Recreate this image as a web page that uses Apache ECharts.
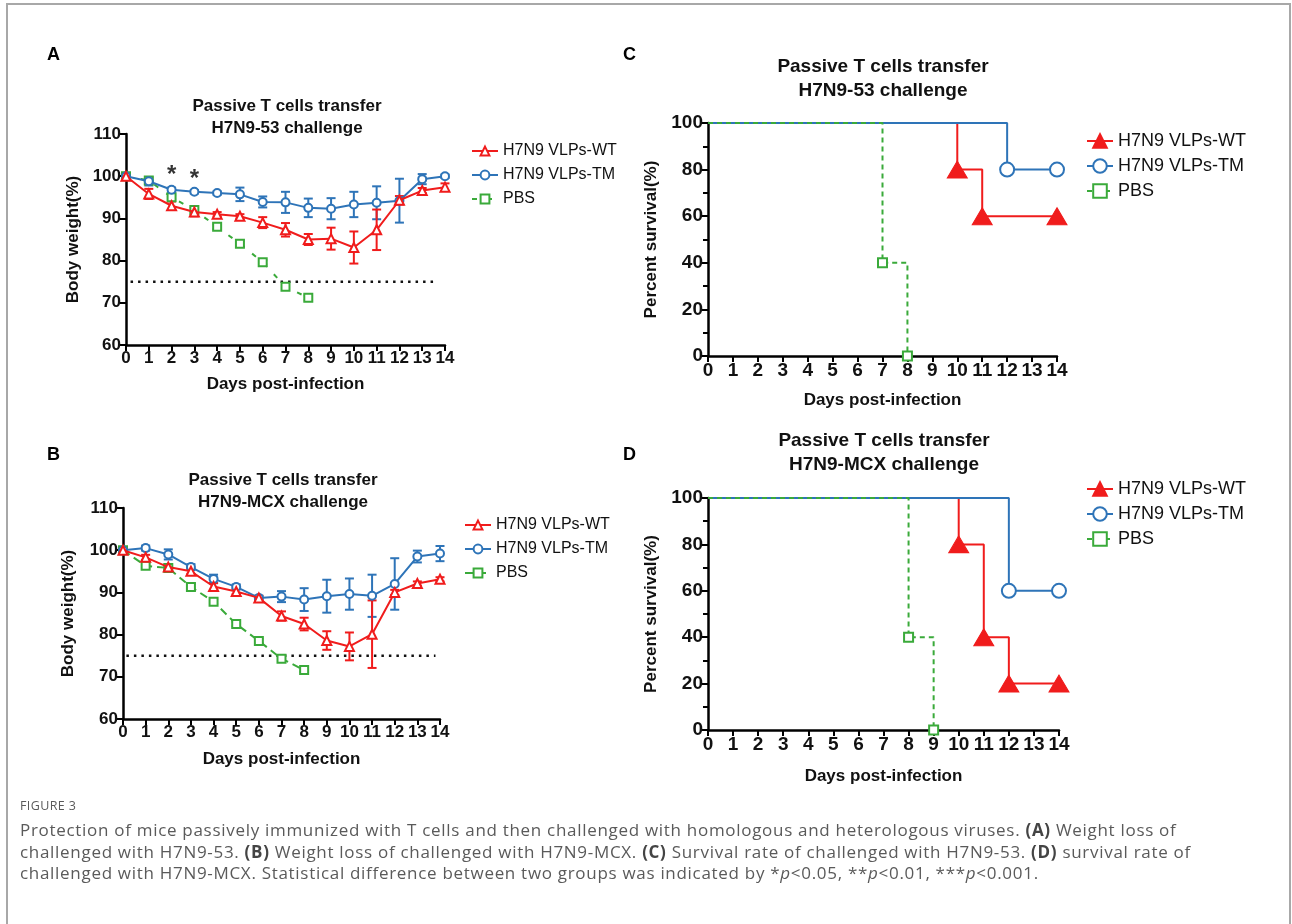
<!DOCTYPE html>
<html>
<head>
<meta charset="utf-8">
<script src="https://cdn.jsdelivr.net/npm/echarts@6/dist/echarts.min.js"></script>
<style>
  html, body { margin:0; padding:0; background:#fff; width:1292px; height:924px; overflow:hidden; }
  #frame { position:absolute; left:6px; top:3px; width:1285px; height:940px; border:2px solid #a8a8a8; border-bottom:none; box-sizing:border-box; }
  #chart { position:absolute; left:0; top:0; width:1292px; height:924px; }
  #cap { position:absolute; left:20px; top:797px; font-family:"Open Sans", "Liberation Sans", sans-serif; color:#5a5a5a; }
  #cap .fig { font-size:12.5px; letter-spacing:0.4px; margin-bottom:5px; }
  #cap .txt { font-size:17px; letter-spacing:0.7px; line-height:21.5px; white-space:nowrap; }
  #cap b { color:#444; }
</style>
</head>
<body>
<div id="frame"></div>
<div id="chart"></div>
<div id="cap">
  <div class="fig">FIGURE 3</div>
  <div class="txt">Protection of mice passively immunized with T cells and then challenged with homologous and heterologous viruses. <b>(A)</b> Weight loss of<br>challenged with H7N9-53. <b>(B)</b> Weight loss of challenged with H7N9-MCX. <b>(C)</b> Survival rate of challenged with H7N9-53. <b>(D)</b> survival rate of<br>challenged with H7N9-MCX. Statistical difference between two groups was indicated by *<i>p</i>&lt;0.05, **<i>p</i>&lt;0.01, ***<i>p</i>&lt;0.001.</div>
</div>
<script>
// ---------- DATA ----------
const days = [0,1,2,3,4,5,6,7,8,9,10,11,12,13,14];
const pbsDays = [0,1,2,3,4,5,6,7,8];

// Panel A: body weight, H7N9-53
const aWT     = [100,95.8,93,91.5,91,90.5,89,87.3,85,85.2,83.1,87.3,94.3,96.6,97.4];
const aWTerr  = [0,1.2,1,1,0.5,0.5,1.3,1.6,1.3,2.6,3.8,4.8,1,0.6,0.9];
const aTM     = [100,98.8,96.8,96.3,96,95.7,93.9,93.8,92.5,92.3,93.3,93.7,94.2,99.3,100];
const aTMerr  = [0,1,0.5,0.4,0.4,1.6,1.3,2.5,2.2,2.5,3,3.9,5.2,1.2,0.4];
const aPBS    = [100,99,95,92,88,84,79.6,73.8,71.2];
const aPBSerr = [0,0.5,0.5,0.6,0.6,0.7,0.5,0.7,0.6];
const aSigDays = [2,3];
const aSigY    = [100.1,99.3];
const aThreshold = [[0.2,75],[13.5,75]];

// Panel B: body weight, H7N9-MCX
const bWT     = [100,98.3,96,95,91.4,90.2,88.7,84.4,82.5,78.6,77.2,80.1,90,92.1,93.1];
const bWTerr  = [0,0.6,0.6,0.6,0.8,0.6,0.5,1.1,1.5,2.2,3.3,8,0.6,0.5,0.5];
const bTM     = [100,100.5,99,96,93.2,91.3,88.7,89,88.3,89.1,89.6,89.2,92,98.5,99.2];
const bTMerr  = [0,0.6,1.2,0.7,1,0.6,0.5,1.3,2.7,3.9,3.7,5,6.1,1.4,1.8];
const bPBS    = [100,96.3,95.8,91.3,87.8,82.5,78.5,74.3,71.6];
const bPBSerr = [0,0.5,0.4,0.7,0.6,0.5,0.5,0.4,0.4];
const bThreshold = [[0.15,75],[13.8,75]];

// Panel C: survival, H7N9-53
const cWTdays = [0,10,11,14],  cWTpct = [100,80,60,60];
const cTMdays = [0,12,14],     cTMpct = [100,80,80];
const cPBSdays = [0,7,8],      cPBSpct = [100,40,0];
// Panel D: survival, H7N9-MCX
const dWTdays = [0,10,11,12,14], dWTpct = [100,80,40,20,20];
const dTMdays = [0,12,14],       dTMpct = [100,60,60];
const dPBSdays = [0,8,9],        dPBSpct = [100,40,0];

const legendNames = ['H7N9 VLPs-WT','H7N9 VLPs-TM','PBS'];

// ---------- STYLE ----------
const RED = '#f01c1c', BLUE = '#2e74b8', GREEN = '#3aaa3a';
const FONT = '"Liberation Sans", Arial, sans-serif';
const chart = echarts.init(document.getElementById('chart'), null, {renderer:'canvas'});

const grids = [
  {left:126, top:134, width:319, height:211},
  {left:123, top:508, width:317, height:211},
  {left:708, top:123, width:349, height:233},
  {left:708, top:498, width:351, height:232}
];

function xAxisFor(i, fs, gap) {
  return {
    type:'value', gridIndex:i, min:0, max:14, interval:1,
    name:'Days post-infection', nameLocation:'middle', nameGap:gap,
    nameTextStyle:{fontFamily:FONT, fontWeight:'bold', fontSize:17, color:'#111'},
    axisLine:{onZero:false, lineStyle:{color:'#000', width:2.5}},
    axisTick:{length:6, lineStyle:{color:'#000', width:2}},
    axisLabel:{fontFamily:FONT, fontWeight:'bold', fontSize:fs, color:'#111', margin:5},
    splitLine:{show:false}
  };
}
function yAxisFor(i, min, max, interval, name, fs, gap, minor) {
  return {
    type:'value', gridIndex:i, min:min, max:max, interval:interval,
    name:name, nameLocation:'middle', nameGap:gap, nameRotate:90,
    nameTextStyle:{fontFamily:FONT, fontWeight:'bold', fontSize:17, color:'#111'},
    axisLine:{show:true, onZero:false, lineStyle:{color:'#000', width:2.5}},
    axisTick:{show:true, length:6, lineStyle:{color:'#000', width:2}},
    minorTick:{show:!!minor, splitNumber:2, length:5, lineStyle:{color:'#000', width:2}},
    axisLabel:{fontFamily:FONT, fontWeight:'bold', fontSize:fs, color:'#111', margin:5},
    splitLine:{show:false}
  };
}

function pairs(xs, ys) { return xs.map((x,i)=>[x, ys[i]]); }
function errData(xs, ys, es) { return xs.map((x,i)=>[x, ys[i], es[i]]).filter(d=>d[2]>0); }

function errSeries(idx, xs, ys, es, color) {
  return {
    type:'custom', xAxisIndex:idx, yAxisIndex:idx, data:errData(xs,ys,es), z:3, silent:true,
    renderItem:function(params, api){
      const x = api.value(0), y = api.value(1), e = api.value(2);
      const t = api.coord([x, y+e]), b = api.coord([x, y-e]);
      const c = 4.5;
      const st = {stroke:color, lineWidth:2};
      return {type:'group', children:[
        {type:'line', shape:{x1:t[0],y1:t[1],x2:b[0],y2:b[1]}, style:st},
        {type:'line', shape:{x1:t[0]-c,y1:t[1],x2:t[0]+c,y2:t[1]}, style:st},
        {type:'line', shape:{x1:b[0]-c,y1:b[1],x2:b[0]+c,y2:b[1]}, style:st}
      ]};
    }
  };
}

function weightLines(idx, p, wt, wtE, tm, tmE, pbs, pbsE, dashPBS) {
  return [
    errSeries(idx, pbsDays, pbs, pbsE, GREEN),
    {name:p+'PBS', type:'line', xAxisIndex:idx, yAxisIndex:idx, data:pairs(pbsDays,pbs), z:4,
     symbol:'rect', symbolSize:8, showAllSymbol:true, clip:false,
     itemStyle:{color:'#fff', borderColor:GREEN, borderWidth:2},
     lineStyle:{color:GREEN, width:2, type:dashPBS}},
    errSeries(idx, days, tm, tmE, BLUE),
    {name:p+'TM', type:'line', xAxisIndex:idx, yAxisIndex:idx, data:pairs(days,tm), z:5,
     symbol:'circle', symbolSize:8, showAllSymbol:true, clip:false,
     itemStyle:{color:'#fff', borderColor:BLUE, borderWidth:2},
     lineStyle:{color:BLUE, width:2}},
    errSeries(idx, days, wt, wtE, RED),
    {name:p+'WT', type:'line', xAxisIndex:idx, yAxisIndex:idx, data:pairs(days,wt), z:6,
     symbol:'triangle', symbolSize:9, showAllSymbol:true, clip:false,
     itemStyle:{color:'#fff', borderColor:RED, borderWidth:2},
     lineStyle:{color:RED, width:2}}
  ];
}

function survData(xs, ys) {
  return xs.map((x,i)=> i===0 ? {value:[x,ys[i]], symbol:'none'} : {value:[x,ys[i]]});
}
function survLines(idx, p, wD, wP, tD, tP, pD, pP) {
  return [
    {name:p+'WT', type:'line', step:'end', xAxisIndex:idx, yAxisIndex:idx, data:survData(wD,wP), z:4,
     symbol:'triangle', symbolSize:[20,17], showAllSymbol:true, clip:false,
     itemStyle:{color:RED, borderColor:RED, borderWidth:1},
     lineStyle:{color:RED, width:2}},
    {name:p+'TM', type:'line', step:'end', xAxisIndex:idx, yAxisIndex:idx, data:survData(tD,tP), z:5,
     symbol:'circle', symbolSize:14, showAllSymbol:true, clip:false,
     itemStyle:{color:'#fff', borderColor:BLUE, borderWidth:2},
     lineStyle:{color:BLUE, width:2}},
    {name:p+'PBS', type:'line', step:'end', xAxisIndex:idx, yAxisIndex:idx, data:survData(pD,pP), z:6,
     symbol:'rect', symbolSize:9, showAllSymbol:true, clip:false,
     itemStyle:{color:'#fff', borderColor:GREEN, borderWidth:2},
     lineStyle:{color:GREEN, width:2, type:[5,4]}}
  ];
}

function thresholdSeries(idx, pts) {
  return {type:'line', xAxisIndex:idx, yAxisIndex:idx, data:pts, symbol:'none', silent:true, z:2,
          lineStyle:{color:'#111', width:2.5, type:[2.5,5]}};
}

function legendFor(p, left, top, fs, ih, gap) {
  return {
    orient:'vertical', left:left, top:top, data:[p+'WT', p+'TM', p+'PBS'],
    formatter:function(n){ return legendNames[['WT','TM','PBS'].indexOf(n.slice(p.length))]; },
    itemWidth:26, itemHeight:ih, itemGap:gap, selectedMode:false,
    textStyle:{fontFamily:FONT, fontSize:fs, color:'#111'}
  };
}

const series = [].concat(
  [thresholdSeries(0, aThreshold)],
  weightLines(0, 'A_', aWT, aWTerr, aTM, aTMerr, aPBS, aPBSerr, [5,10]),
  [{type:'scatter', xAxisIndex:0, yAxisIndex:0, data:pairs(aSigDays, aSigY), symbol:'circle', symbolSize:1, silent:true, z:7,
    itemStyle:{color:'rgba(0,0,0,0)'},
    label:{show:true, formatter:'*', position:'inside', fontFamily:FONT, fontSize:24, fontWeight:'bold', color:'#000'}}],
  [thresholdSeries(1, bThreshold)],
  weightLines(1, 'B_', bWT, bWTerr, bTM, bTMerr, bPBS, bPBSerr, [8,5]),
  survLines(2, 'C_', cWTdays, cWTpct, cTMdays, cTMpct, cPBSdays, cPBSpct),
  survLines(3, 'D_', dWTdays, dWTpct, dTMdays, dTMpct, dPBSdays, dPBSpct)
);

function titleText(x, y, l1, l2, fs) {
  return {type:'text', x:x, y:y, style:{text:l1+'\n'+l2, align:'center', verticalAlign:'top',
          font:'bold '+fs+'px '+FONT, fill:'#111', lineHeight:fs+5}};
}
function letter(x, y, t) {
  return {type:'text', x:x, y:y, style:{text:t, font:'bold 18px '+FONT, fill:'#000'}};
}

chart.setOption({
  animation:false,
  grid:grids,
  xAxis:[xAxisFor(0,17,31), xAxisFor(1,17,32), xAxisFor(2,19,36), xAxisFor(3,19,38)],
  yAxis:[
    yAxisFor(0,60,110,10,'Body weight(%)',17,44,false),
    yAxisFor(1,60,110,10,'Body weight(%)',17,46,false),
    yAxisFor(2,0,100,20,'Percent survival(%)',19,48,true),
    yAxisFor(3,0,100,20,'Percent survival(%)',19,48,true)
  ],
  legend:[
    legendFor('A_', 466, 138, 16, 11, 8),
    legendFor('B_', 459, 512, 16, 11, 8),
    legendFor('C_', 1081, 127, 18, 17, 7),
    legendFor('D_', 1081, 475, 18, 17, 7)
  ],
  series:series,
  graphic:[
    titleText(287, 95, 'Passive T cells transfer', 'H7N9-53 challenge', 17),
    titleText(283, 469, 'Passive T cells transfer', 'H7N9-MCX challenge', 17),
    titleText(883, 55, 'Passive T cells transfer', 'H7N9-53 challenge', 19),
    titleText(884, 429, 'Passive T cells transfer', 'H7N9-MCX challenge', 19),
    letter(47, 46, 'A'),
    letter(47, 446, 'B'),
    letter(623, 46, 'C'),
    letter(623, 446, 'D')
  ]
});
</script>
</body>
</html>
